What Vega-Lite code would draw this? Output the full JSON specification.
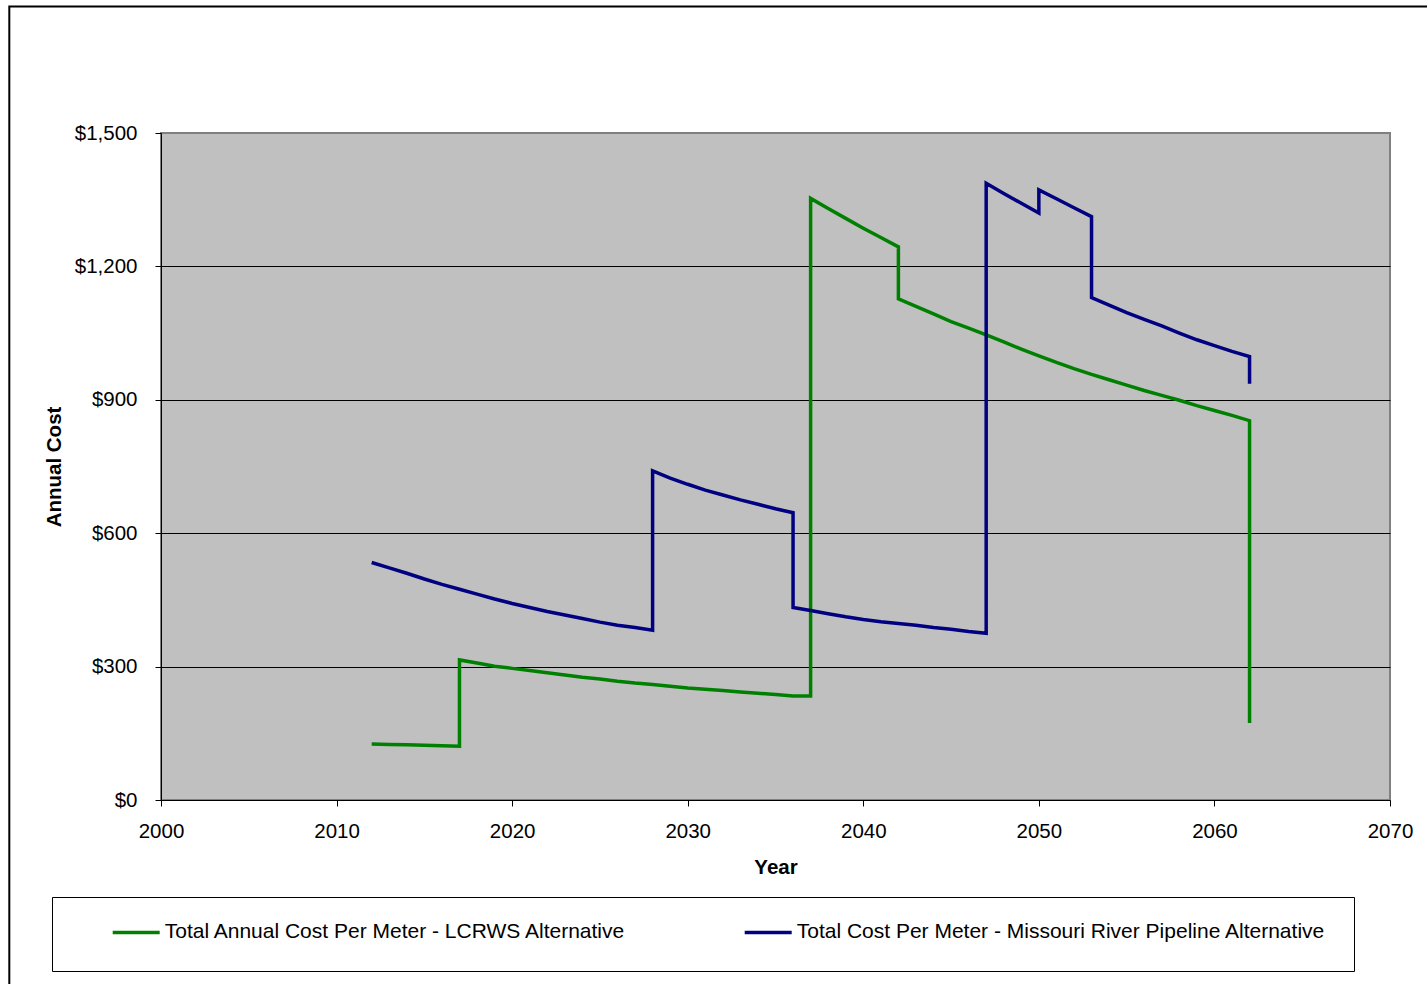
{
  "$schema": "https://vega.github.io/schema/vega-lite/v6.json",
  "autosize": {"type": "none"},
  "width": 1229,
  "height": 667,
  "padding": {"left": 161, "top": 133, "right": 37, "bottom": 184},
  "background": "#ffffff",
  "config": {
    "font": "Liberation Sans",
    "view": {"fill": "#C0C0C0", "stroke": "#808080", "strokeWidth": 2},
    "axis": {
      "domainColor": "#000000",
      "domainWidth": 1,
      "tickColor": "#000000",
      "tickWidth": 1,
      "tickSize": 6,
      "labelColor": "#000000",
      "labelFontSize": 20.5,
      "titleColor": "#000000",
      "titleFontSize": 20.5,
      "titleFontWeight": "bold",
      "labelFlush": false,
      "labelOverlap": false
    }
  },
  "datasets": {
    "costs": [
      {"series": "Total Annual Cost Per Meter - LCRWS Alternative", "year": 2012, "cost": 126},
      {"series": "Total Annual Cost Per Meter - LCRWS Alternative", "year": 2013, "cost": 125},
      {"series": "Total Annual Cost Per Meter - LCRWS Alternative", "year": 2014, "cost": 124},
      {"series": "Total Annual Cost Per Meter - LCRWS Alternative", "year": 2015, "cost": 123},
      {"series": "Total Annual Cost Per Meter - LCRWS Alternative", "year": 2016, "cost": 122},
      {"series": "Total Annual Cost Per Meter - LCRWS Alternative", "year": 2017, "cost": 121},
      {"series": "Total Annual Cost Per Meter - LCRWS Alternative", "year": 2017, "cost": 315},
      {"series": "Total Annual Cost Per Meter - LCRWS Alternative", "year": 2018, "cost": 308},
      {"series": "Total Annual Cost Per Meter - LCRWS Alternative", "year": 2019, "cost": 301},
      {"series": "Total Annual Cost Per Meter - LCRWS Alternative", "year": 2020, "cost": 296},
      {"series": "Total Annual Cost Per Meter - LCRWS Alternative", "year": 2021, "cost": 291},
      {"series": "Total Annual Cost Per Meter - LCRWS Alternative", "year": 2022, "cost": 286},
      {"series": "Total Annual Cost Per Meter - LCRWS Alternative", "year": 2023, "cost": 281},
      {"series": "Total Annual Cost Per Meter - LCRWS Alternative", "year": 2024, "cost": 276},
      {"series": "Total Annual Cost Per Meter - LCRWS Alternative", "year": 2025, "cost": 272},
      {"series": "Total Annual Cost Per Meter - LCRWS Alternative", "year": 2026, "cost": 267},
      {"series": "Total Annual Cost Per Meter - LCRWS Alternative", "year": 2027, "cost": 263},
      {"series": "Total Annual Cost Per Meter - LCRWS Alternative", "year": 2028, "cost": 260},
      {"series": "Total Annual Cost Per Meter - LCRWS Alternative", "year": 2029, "cost": 256},
      {"series": "Total Annual Cost Per Meter - LCRWS Alternative", "year": 2030, "cost": 252},
      {"series": "Total Annual Cost Per Meter - LCRWS Alternative", "year": 2031, "cost": 249},
      {"series": "Total Annual Cost Per Meter - LCRWS Alternative", "year": 2032, "cost": 246},
      {"series": "Total Annual Cost Per Meter - LCRWS Alternative", "year": 2033, "cost": 243},
      {"series": "Total Annual Cost Per Meter - LCRWS Alternative", "year": 2034, "cost": 240},
      {"series": "Total Annual Cost Per Meter - LCRWS Alternative", "year": 2035, "cost": 237},
      {"series": "Total Annual Cost Per Meter - LCRWS Alternative", "year": 2036, "cost": 234},
      {"series": "Total Annual Cost Per Meter - LCRWS Alternative", "year": 2037, "cost": 234},
      {"series": "Total Annual Cost Per Meter - LCRWS Alternative", "year": 2037, "cost": 1353},
      {"series": "Total Annual Cost Per Meter - LCRWS Alternative", "year": 2038, "cost": 1330},
      {"series": "Total Annual Cost Per Meter - LCRWS Alternative", "year": 2039, "cost": 1308},
      {"series": "Total Annual Cost Per Meter - LCRWS Alternative", "year": 2040, "cost": 1286},
      {"series": "Total Annual Cost Per Meter - LCRWS Alternative", "year": 2041, "cost": 1265},
      {"series": "Total Annual Cost Per Meter - LCRWS Alternative", "year": 2042, "cost": 1244},
      {"series": "Total Annual Cost Per Meter - LCRWS Alternative", "year": 2042, "cost": 1127},
      {"series": "Total Annual Cost Per Meter - LCRWS Alternative", "year": 2043, "cost": 1110},
      {"series": "Total Annual Cost Per Meter - LCRWS Alternative", "year": 2044, "cost": 1093},
      {"series": "Total Annual Cost Per Meter - LCRWS Alternative", "year": 2045, "cost": 1076},
      {"series": "Total Annual Cost Per Meter - LCRWS Alternative", "year": 2046, "cost": 1061},
      {"series": "Total Annual Cost Per Meter - LCRWS Alternative", "year": 2047, "cost": 1046},
      {"series": "Total Annual Cost Per Meter - LCRWS Alternative", "year": 2048, "cost": 1030},
      {"series": "Total Annual Cost Per Meter - LCRWS Alternative", "year": 2049, "cost": 1014},
      {"series": "Total Annual Cost Per Meter - LCRWS Alternative", "year": 2050, "cost": 999},
      {"series": "Total Annual Cost Per Meter - LCRWS Alternative", "year": 2051, "cost": 984},
      {"series": "Total Annual Cost Per Meter - LCRWS Alternative", "year": 2052, "cost": 970},
      {"series": "Total Annual Cost Per Meter - LCRWS Alternative", "year": 2053, "cost": 957},
      {"series": "Total Annual Cost Per Meter - LCRWS Alternative", "year": 2054, "cost": 945},
      {"series": "Total Annual Cost Per Meter - LCRWS Alternative", "year": 2055, "cost": 933},
      {"series": "Total Annual Cost Per Meter - LCRWS Alternative", "year": 2056, "cost": 921},
      {"series": "Total Annual Cost Per Meter - LCRWS Alternative", "year": 2057, "cost": 910},
      {"series": "Total Annual Cost Per Meter - LCRWS Alternative", "year": 2058, "cost": 899},
      {"series": "Total Annual Cost Per Meter - LCRWS Alternative", "year": 2059, "cost": 887},
      {"series": "Total Annual Cost Per Meter - LCRWS Alternative", "year": 2060, "cost": 876},
      {"series": "Total Annual Cost Per Meter - LCRWS Alternative", "year": 2061, "cost": 865},
      {"series": "Total Annual Cost Per Meter - LCRWS Alternative", "year": 2062, "cost": 853},
      {"series": "Total Annual Cost Per Meter - LCRWS Alternative", "year": 2062, "cost": 173},
      {"series": "Total Cost Per Meter - Missouri River Pipeline Alternative", "year": 2012, "cost": 534},
      {"series": "Total Cost Per Meter - Missouri River Pipeline Alternative", "year": 2013, "cost": 522},
      {"series": "Total Cost Per Meter - Missouri River Pipeline Alternative", "year": 2014, "cost": 510},
      {"series": "Total Cost Per Meter - Missouri River Pipeline Alternative", "year": 2015, "cost": 497},
      {"series": "Total Cost Per Meter - Missouri River Pipeline Alternative", "year": 2016, "cost": 485},
      {"series": "Total Cost Per Meter - Missouri River Pipeline Alternative", "year": 2017, "cost": 474},
      {"series": "Total Cost Per Meter - Missouri River Pipeline Alternative", "year": 2018, "cost": 463},
      {"series": "Total Cost Per Meter - Missouri River Pipeline Alternative", "year": 2019, "cost": 452},
      {"series": "Total Cost Per Meter - Missouri River Pipeline Alternative", "year": 2020, "cost": 442},
      {"series": "Total Cost Per Meter - Missouri River Pipeline Alternative", "year": 2021, "cost": 433},
      {"series": "Total Cost Per Meter - Missouri River Pipeline Alternative", "year": 2022, "cost": 424},
      {"series": "Total Cost Per Meter - Missouri River Pipeline Alternative", "year": 2023, "cost": 416},
      {"series": "Total Cost Per Meter - Missouri River Pipeline Alternative", "year": 2024, "cost": 408},
      {"series": "Total Cost Per Meter - Missouri River Pipeline Alternative", "year": 2025, "cost": 400},
      {"series": "Total Cost Per Meter - Missouri River Pipeline Alternative", "year": 2026, "cost": 393},
      {"series": "Total Cost Per Meter - Missouri River Pipeline Alternative", "year": 2027, "cost": 388},
      {"series": "Total Cost Per Meter - Missouri River Pipeline Alternative", "year": 2028, "cost": 382},
      {"series": "Total Cost Per Meter - Missouri River Pipeline Alternative", "year": 2028, "cost": 740},
      {"series": "Total Cost Per Meter - Missouri River Pipeline Alternative", "year": 2029, "cost": 724},
      {"series": "Total Cost Per Meter - Missouri River Pipeline Alternative", "year": 2030, "cost": 710},
      {"series": "Total Cost Per Meter - Missouri River Pipeline Alternative", "year": 2031, "cost": 697},
      {"series": "Total Cost Per Meter - Missouri River Pipeline Alternative", "year": 2032, "cost": 686},
      {"series": "Total Cost Per Meter - Missouri River Pipeline Alternative", "year": 2033, "cost": 675},
      {"series": "Total Cost Per Meter - Missouri River Pipeline Alternative", "year": 2034, "cost": 665},
      {"series": "Total Cost Per Meter - Missouri River Pipeline Alternative", "year": 2035, "cost": 655},
      {"series": "Total Cost Per Meter - Missouri River Pipeline Alternative", "year": 2036, "cost": 646},
      {"series": "Total Cost Per Meter - Missouri River Pipeline Alternative", "year": 2036, "cost": 433},
      {"series": "Total Cost Per Meter - Missouri River Pipeline Alternative", "year": 2037, "cost": 426},
      {"series": "Total Cost Per Meter - Missouri River Pipeline Alternative", "year": 2038, "cost": 419},
      {"series": "Total Cost Per Meter - Missouri River Pipeline Alternative", "year": 2039, "cost": 412},
      {"series": "Total Cost Per Meter - Missouri River Pipeline Alternative", "year": 2040, "cost": 406},
      {"series": "Total Cost Per Meter - Missouri River Pipeline Alternative", "year": 2041, "cost": 401},
      {"series": "Total Cost Per Meter - Missouri River Pipeline Alternative", "year": 2042, "cost": 397},
      {"series": "Total Cost Per Meter - Missouri River Pipeline Alternative", "year": 2043, "cost": 393},
      {"series": "Total Cost Per Meter - Missouri River Pipeline Alternative", "year": 2044, "cost": 388},
      {"series": "Total Cost Per Meter - Missouri River Pipeline Alternative", "year": 2045, "cost": 384},
      {"series": "Total Cost Per Meter - Missouri River Pipeline Alternative", "year": 2046, "cost": 379},
      {"series": "Total Cost Per Meter - Missouri River Pipeline Alternative", "year": 2047, "cost": 375},
      {"series": "Total Cost Per Meter - Missouri River Pipeline Alternative", "year": 2047, "cost": 1387},
      {"series": "Total Cost Per Meter - Missouri River Pipeline Alternative", "year": 2048, "cost": 1364},
      {"series": "Total Cost Per Meter - Missouri River Pipeline Alternative", "year": 2049, "cost": 1342},
      {"series": "Total Cost Per Meter - Missouri River Pipeline Alternative", "year": 2050, "cost": 1320},
      {"series": "Total Cost Per Meter - Missouri River Pipeline Alternative", "year": 2050, "cost": 1372},
      {"series": "Total Cost Per Meter - Missouri River Pipeline Alternative", "year": 2051, "cost": 1352},
      {"series": "Total Cost Per Meter - Missouri River Pipeline Alternative", "year": 2052, "cost": 1332},
      {"series": "Total Cost Per Meter - Missouri River Pipeline Alternative", "year": 2053, "cost": 1312},
      {"series": "Total Cost Per Meter - Missouri River Pipeline Alternative", "year": 2053, "cost": 1130},
      {"series": "Total Cost Per Meter - Missouri River Pipeline Alternative", "year": 2054, "cost": 1113},
      {"series": "Total Cost Per Meter - Missouri River Pipeline Alternative", "year": 2055, "cost": 1096},
      {"series": "Total Cost Per Meter - Missouri River Pipeline Alternative", "year": 2056, "cost": 1081},
      {"series": "Total Cost Per Meter - Missouri River Pipeline Alternative", "year": 2057, "cost": 1066},
      {"series": "Total Cost Per Meter - Missouri River Pipeline Alternative", "year": 2058, "cost": 1050},
      {"series": "Total Cost Per Meter - Missouri River Pipeline Alternative", "year": 2059, "cost": 1035},
      {"series": "Total Cost Per Meter - Missouri River Pipeline Alternative", "year": 2060, "cost": 1022},
      {"series": "Total Cost Per Meter - Missouri River Pipeline Alternative", "year": 2061, "cost": 1009},
      {"series": "Total Cost Per Meter - Missouri River Pipeline Alternative", "year": 2062, "cost": 997},
      {"series": "Total Cost Per Meter - Missouri River Pipeline Alternative", "year": 2062, "cost": 936}
    ]
  },
  "layer": [
    {
      "data": {"name": "costs"},
      "mark": {"type": "line", "strokeWidth": 3.5, "strokeJoin": "miter", "strokeCap": "butt"},
      "encoding": {
        "x": {
          "field": "year",
          "type": "quantitative",
          "scale": {"domain": [2000, 2070], "nice": false, "zero": false},
          "axis": {
            "title": "Year",
            "values": [2000, 2010, 2020, 2030, 2040, 2050, 2060, 2070],
            "format": "d",
            "grid": false,
            "labelPadding": 15,
            "titlePadding": 16
          }
        },
        "y": {
          "field": "cost",
          "type": "quantitative",
          "scale": {"domain": [0, 1500], "nice": false},
          "axis": {
            "title": "Annual Cost",
            "values": [0, 300, 600, 900, 1200, 1500],
            "format": "$,.0f",
            "grid": true,
            "gridColor": "#000000",
            "gridWidth": 1,
            "gridOpacity": {"condition": {"test": "datum.value === 0 || datum.value === 1500", "value": 0}, "value": 1},
            "labelPadding": 18,
            "titlePadding": 10
          }
        },
        "color": {
          "field": "series",
          "type": "nominal",
          "scale": {
            "domain": ["Total Annual Cost Per Meter - LCRWS Alternative", "Total Cost Per Meter - Missouri River Pipeline Alternative"],
            "range": ["#008000", "#000080"]
          },
          "legend": {
            "title": null,
            "orient": "none",
            "legendX": -109,
            "legendY": 764,
            "direction": "horizontal",
            "columns": 2,
            "gridAlign": "each",
            "columnPadding": 85,
            "padding": 27.7,
            "clipHeight": 15,
            "symbolType": "stroke",
            "symbolSize": 2209,
            "symbolStrokeWidth": 3.5,
            "symbolOffset": 31,
            "labelOffset": 3,
            "labelFontSize": 21,
            "labelLimit": 1000,
            "labelColor": "#000000",
            "strokeColor": "#000000",
            "fillColor": "#ffffff"
          }
        },
        "order": {"value": null}
      }
    },
    {
      "data": {"values": [{}]},
      "mark": {"type": "rect", "filled": false, "stroke": "#000000", "strokeWidth": 2, "clip": false},
      "encoding": {
        "x": {"datum": 1991.36, "type": "quantitative"},
        "x2": {"datum": 2090},
        "y": {"datum": 1784.5, "type": "quantitative"},
        "y2": {"datum": -600}
      }
    }
  ]
}
